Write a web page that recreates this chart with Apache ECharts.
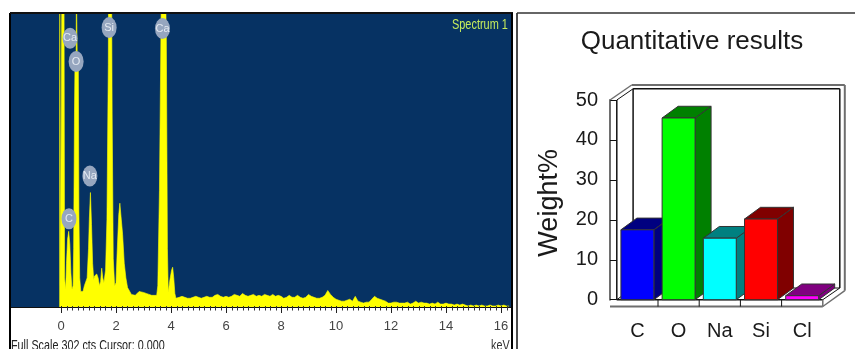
<!DOCTYPE html>
<html><head><meta charset="utf-8">
<style>html,body{margin:0;padding:0;background:#fff}#c{width:855px;height:349px}</style>
<script src="https://cdn.jsdelivr.net/npm/echarts@6/dist/echarts.min.js"></script>
</head><body><div id="c"></div>
<script>
// Spectrum: low-energy region (keV, counts)
const lowEnergy = [-0.05,-0.045,-0.03,-0.02,0.02,0.03,0.11,0.13,0.17,0.2,0.24,0.28,0.32,0.36,0.4,0.44,0.46,0.48,0.49,0.51,0.55,0.56,0.58,0.59,0.63,0.65,0.68,0.72,0.76,0.8,0.85,0.9,0.95,1.0,1.03,1.07,1.11,1.15,1.19,1.22,1.3,1.35,1.4,1.44,1.48,1.52,1.56,1.62,1.67,1.72,1.73,1.84,1.86,1.9,1.95,2.0,2.04,2.1,2.14,2.18,2.24,2.3,2.36,2.42,2.5,2.56,2.62,2.7,2.76,2.84,2.9,3.0,3.1,3.2,3.3,3.4,3.48,3.52,3.58,3.64,3.66,3.8,3.83,3.87,3.9,3.93,3.96,4.02,4.06,4.1,4.14,4.18];
const lowCounts = [0,330,330,22,22,330,330,30,18,45,70,78,65,35,18,22,60,150,200,255,258,330,330,258,255,100,30,16,14,16,22,24,30,60,90,118,85,45,28,32,34,30,22,26,40,30,25,38,90,250,330,330,200,50,22,25,55,95,107,108,75,45,30,20,16,13,11,12,13,16,15,15,14,13,12,12,12,22,120,300,330,330,280,60,15,14,28,38,41,30,14,9];
// Spectrum: tail from 4.2 keV in 0.1 keV channels
const tailStart = 4.2;
const tailCounts = [9,10,11,10,9,9,10,11,10,9, 10,11,10,10,12,13,11,10,11,10, 11,13,12,11,14,12,11,12,13,11, 12,11,13,12,11,13,11,12,11,9, 10,12,10,10,12,10,9,10,13,11, 10,9,9,10,12,17,13,10,8,7, 6,6,7,8,6,11,6,5,4,5, 5,8,11,9,8,7,6,4,4,5, 5,4,4,4,5,3,4,6,4,5, 4,4,3,4,3,5,3,3,4,3, 3,2,3,2,3,2,1,2,1,2, 1,2,1,1,2,1,1,2,1,2,1,1];
// Element markers on the spectrum
const markerNames = ['Ca','O','Si','Ca','Na','C'];
const markerEnergy = [0.33,0.55,1.75,3.69,1.05,0.29];
const markerCounts = [277,253,288,287,135,91];
// Spectrum x ticks
const majorTicks = [0,2,4,6,8,10,12,14,16];
// Quantitative results
const elements = ['C','O','Na','Si','Cl'];
const weights = [17.5,45.5,15.4,20.2,1.0];
const frontColors = ['#0000ff','#00ff00','#00ffff','#ff0000','#ff00ff'];
const depthColors = ['#000080','#008000','#008080','#800000','#800080'];

const sans = '"Liberation Sans",Arial,sans-serif';

const spectrum = lowEnergy.map((e,i)=>[e,lowCounts[i]])
  .concat(tailCounts.map((c,i)=>[+(tailStart+i*0.1).toFixed(1),c]));
const allTicks = [];
for (let i=0;i<=82;i++) allTicks.push(+(i*0.2).toFixed(1));

const DX=16, DY=-11.7;
function poly(points,fill,stroke,w){
  return {type:'polygon',shape:{points},style:{fill,stroke:stroke||'#333',lineWidth:w==null?1:w}};
}
function line(x1,y1,x2,y2,stroke,w){
  return {type:'line',shape:{x1,y1,x2,y2},style:{stroke,lineWidth:w||1}};
}
function renderTick(params,api){
  const v=api.value(0), p=api.coord([v,0]);
  const major=majorTicks.indexOf(v)>=0;
  const x=Math.round(p[0])+0.5;
  return line(x,p[1]-1,x,p[1]+(major?6:3.5),major?'#222':'#333',1);
}
function renderBar(params,api){
  const i=api.value(0), top=api.coord([i,api.value(1)]), base=api.coord([i,0]);
  const w=api.size([1,0])[0]*0.8, x0=top[0]-w/2, x1=top[0]+w/2, y0=top[1], y1=base[1];
  return {type:'group',children:[
    poly([[x1,y0],[x1+DX,y0+DY],[x1+DX,y1+DY],[x1,y1]],depthColors[i]),
    poly([[x0,y0],[x0+DX,y0+DY],[x1+DX,y0+DY],[x1,y0]],depthColors[i]),
    poly([[x0,y0],[x1,y0],[x1,y1],[x0,y1]],frontColors[i])
  ]};
}
function renderFrame(params,api){
  const c=params.coordSys, L=c.x, R=c.x+c.width, T=c.y, B=c.y+c.height;
  const t=6.8, ox=21.7, oy=-15, ix=16.3, iy=-11.7, gray='#6e6e6e', dark='#111';
  const kids=[
    line(L-t,T,L-t+ox,T+oy,gray,1.5),
    line(L-t+ox,T+oy,R+22,T+oy,gray,2),
    line(R+22,T+oy,R+22,B-9,gray,2),
    line(R+22,B-9,R,B+t,gray,1.5),
    line(L,T,L+ix,T+iy+0.5,dark,1),
    line(L+ix,T+iy+0.5,R+17,T+iy+0.5,dark,1.5),
    line(R+17,T+iy+0.5,R+17,B+iy,dark,1.5),
    line(L+ix,T+iy+0.5,L+ix,B+iy,dark,1.5),
    line(L,B,L+ix,B+iy,dark,1),
    line(R,B,R+17,B+iy,dark,1),
    line(L+ix,B+iy,R+17,B+iy,dark,1),
    line(L-t,B+t,R,B+t,gray,2),
    line(L,B,R,B,dark,1.5),
    line(R,B,R,B+t,gray,1.5),
    line(L,T,L,B,dark,1.5)
  ];
  for (let k=1;k<elements.length;k++){
    const x=L+k*c.width/elements.length;
    kids.push(line(x,B,x,B+t,dark,1));
  }
  return {type:'group',children:kids};
}

const chart=echarts.init(document.getElementById('c'),null,{renderer:'canvas'});
chart.setOption({
  animation:false,
  backgroundColor:'#fff',
  title:{text:'Quantitative results',left:687,top:24,textAlign:'center',
    textStyle:{fontFamily:sans,fontSize:26,fontWeight:'normal',color:'#1a1a1a'}},
  grid:[
    {left:10,top:14,width:502,height:293,show:true,backgroundColor:'#063263',borderWidth:0},
    {left:616.8,top:100,width:206,height:199.7,show:false}
  ],
  xAxis:[
    {gridIndex:0,type:'value',min:(10-61)/27.5,max:(512-61)/27.5,splitLine:{show:false},
     axisLine:{onZero:false,lineStyle:{color:'#111',width:1}},
     axisTick:{show:false},
     axisLabel:{customValues:majorTicks,margin:13,fontFamily:sans,fontSize:13,color:'#444'}},
    {gridIndex:1,type:'category',data:elements,position:'bottom',
     axisLine:{show:false},axisTick:{show:false},
     axisLabel:{margin:22,fontFamily:sans,fontSize:20,color:'#1a1a1a'}}
  ],
  yAxis:[
    {gridIndex:0,type:'value',min:0,max:302,show:false},
    {gridIndex:1,type:'value',min:0,max:50,interval:10,offset:6.8,
     name:'Weight%',nameLocation:'middle',nameGap:47,
     nameTextStyle:{fontFamily:sans,fontSize:27,color:'#1a1a1a',padding:[0,6,0,0]},
     splitLine:{show:false},
     axisLine:{show:true,lineStyle:{color:'#6e6e6e',width:2}},
     axisTick:{show:true,inside:true,length:6.8,lineStyle:{color:'#111'}},
     axisLabel:{margin:12,fontFamily:sans,fontSize:20,color:'#1a1a1a',padding:[3,0,0,0]}}
  ],
  series:[
    {type:'line',xAxisIndex:0,yAxisIndex:0,data:spectrum,showSymbol:false,smooth:false,sampling:false,
     lineStyle:{color:'#ffff00',width:0.6},areaStyle:{color:'#ffff00',opacity:1},z:3},
    {type:'custom',xAxisIndex:0,yAxisIndex:0,z:4,clip:false,silent:true,data:allTicks.map(v=>[v]),encode:{x:0},renderItem:renderTick},
    {type:'scatter',xAxisIndex:0,yAxisIndex:0,z:5,symbol:'circle',symbolSize:[15,21],
     data:markerNames.map((n,i)=>({name:n,value:[markerEnergy[i],markerCounts[i]]})),
     itemStyle:{color:'#96a6bf',opacity:1},
     label:{show:true,position:'inside',formatter:'{b}',fontFamily:sans,fontSize:11,color:'#e4eaf2'}},
    {type:'custom',xAxisIndex:1,yAxisIndex:1,z:2,clip:false,data:[[0,0]],renderItem:renderFrame,silent:true},
    {type:'custom',xAxisIndex:1,yAxisIndex:1,z:4,clip:false,data:weights.map((w,i)=>[i,w]),renderItem:renderBar}
  ],
  graphic:[
    {type:'line',z:10,shape:{x1:10,y1:13,x2:10,y2:349},style:{stroke:'#000',lineWidth:2}},
    {type:'line',z:10,shape:{x1:10,y1:13,x2:513,y2:13},style:{stroke:'#111',lineWidth:2}},
    {type:'line',z:10,shape:{x1:512,y1:13,x2:512,y2:349},style:{stroke:'#000',lineWidth:2}},
    {type:'line',z:10,shape:{x1:517,y1:13,x2:517,y2:349},style:{stroke:'#111',lineWidth:1.5}},
    {type:'line',z:10,shape:{x1:517,y1:13,x2:855,y2:13},style:{stroke:'#333',lineWidth:1.5}},
    {type:'text',z:10,x:452,y:18,scaleX:0.78,style:{text:'Spectrum 1',fontFamily:sans,fontSize:14,fill:'#c6ec5c'}},
    {type:'text',z:10,x:11,y:338,scaleX:0.72,style:{text:'Full Scale 302 cts Cursor: 0.000',fontFamily:sans,fontSize:15,fill:'#222'}},
    {type:'text',z:10,x:491,y:338,scaleX:0.72,style:{text:'keV',fontFamily:sans,fontSize:15,fill:'#333'}}
  ]
});
</script></body></html>
